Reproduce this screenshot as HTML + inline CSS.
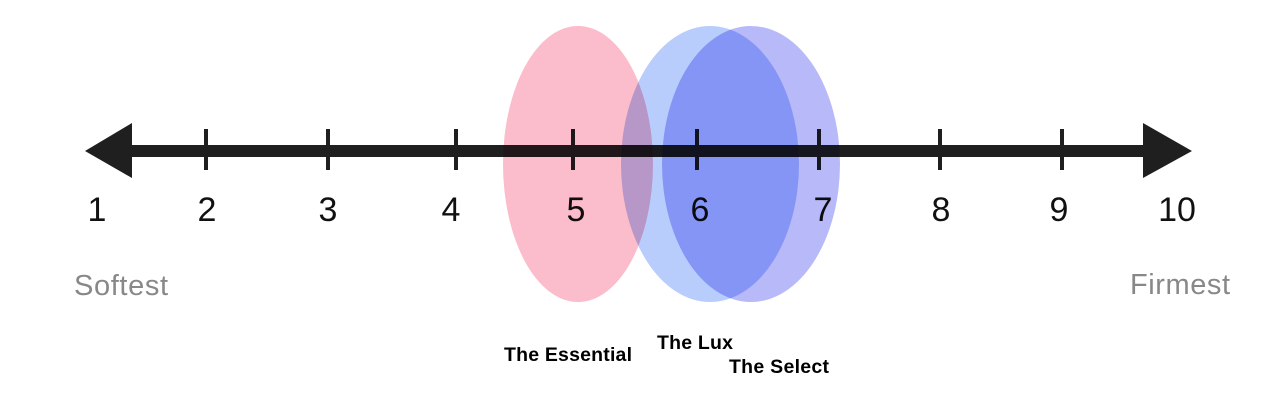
<!DOCTYPE html>
<html><head><style>
body{margin:0;width:1280px;height:400px;background:#fff;overflow:hidden}
svg{display:block}
ellipse{mix-blend-mode:multiply}
</style></head><body>
<svg width="1280" height="400" xmlns="http://www.w3.org/2000/svg" style="isolation:isolate">
<rect width="1280" height="400" fill="#fff"/>
<g stroke="#1f1f1f" stroke-width="4">
<line x1="206" y1="129" x2="206" y2="170"/><line x1="328" y1="129" x2="328" y2="170"/>
<line x1="456" y1="129" x2="456" y2="170"/><line x1="573" y1="129" x2="573" y2="170"/>
<line x1="697" y1="129" x2="697" y2="170"/><line x1="819" y1="129" x2="819" y2="170"/>
<line x1="940" y1="129" x2="940" y2="170"/><line x1="1062" y1="129" x2="1062" y2="170"/>
</g>
<rect x="125" y="145" width="1025" height="12" fill="#1f1f1f"/>
<polygon points="85,151 132,123 132,178" fill="#1f1f1f"/>
<polygon points="1192,151 1143,123 1143,178" fill="#1f1f1f"/>
<g font-family="Liberation Sans, sans-serif" font-size="34" fill="#111" text-anchor="middle">
<text x="97" y="221">1</text><text x="207" y="221">2</text><text x="328" y="221">3</text>
<text x="451" y="221">4</text><text x="576" y="221">5</text><text x="700" y="221">6</text>
<text x="823" y="221">7</text><text x="941" y="221">8</text><text x="1059" y="221">9</text>
<text x="1177" y="221">10</text>
</g>
<ellipse cx="578" cy="164" rx="75" ry="138" fill="#fbbccb"/>
<ellipse cx="710" cy="164" rx="89" ry="138" fill="#b9cdfc"/>
<ellipse cx="751" cy="164" rx="89" ry="138" fill="#b8b9f8"/>
<g font-family="Liberation Sans, sans-serif" font-size="29" fill="#888">
<text x="74" y="295" textLength="94">Softest</text><text x="1130" y="294" textLength="100">Firmest</text>
</g>
<g font-family="Liberation Sans, sans-serif" font-size="19.5" font-weight="bold" fill="#000">
<text x="504" y="361" textLength="128">The Essential</text>
<text x="657" y="349" textLength="76">The Lux</text>
<text x="729" y="373" textLength="100">The Select</text>
</g>
</svg>
</body></html>
